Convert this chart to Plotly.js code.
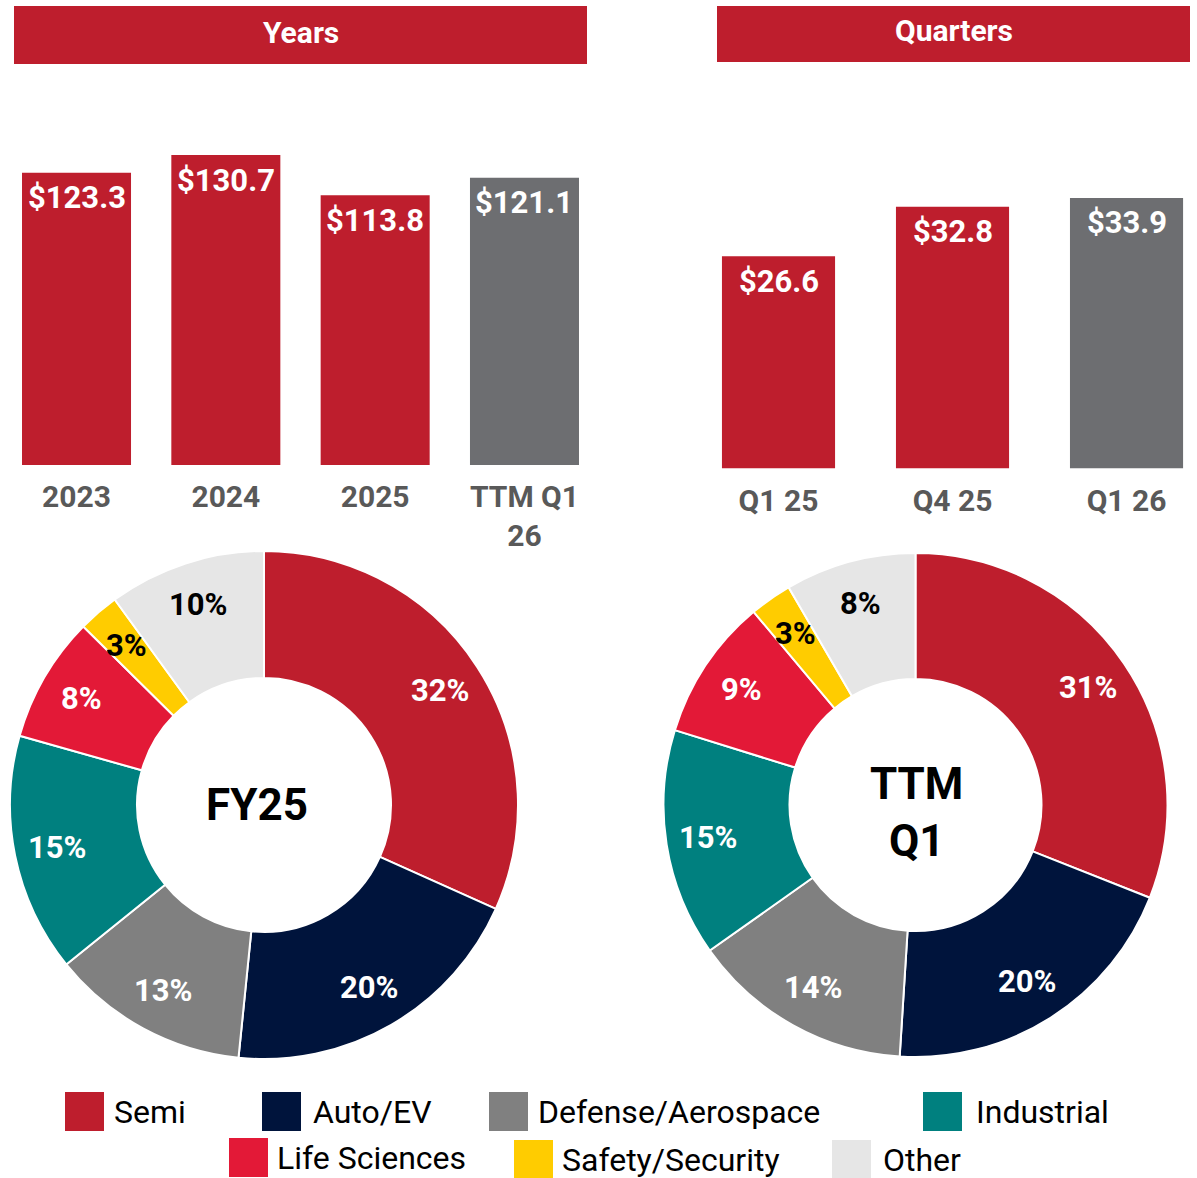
<!DOCTYPE html>
<html><head><meta charset="utf-8">
<script src="https://cdn.plot.ly/plotly-3.0.1.min.js"></script>
<style>html,body{margin:0;padding:0;background:#fff;} #chart{width:1197px;height:1178px;}</style>
</head><body><div id="chart"></div>
<script>
// ---- data ----
const yearCategories = ['2023', '2024', '2025', 'TTM Q1<br>26'];
const yearRevenue = [123.3, 130.7, 113.8, 121.1];
const quarterCategories = ['Q1 25', 'Q4 25', 'Q1 26'];
const quarterRevenue = [26.6, 32.8, 33.9];
const segments = ['Semi', 'Auto/EV', 'Defense/Aerospace', 'Industrial', 'Life Sciences', 'Safety/Security', 'Other'];
const fy25Mix = [31.7, 19.9, 12.6, 15.2, 8.0, 2.6, 10.0];
const ttmMix = [31.0, 20.0, 14.2, 14.6, 9.1, 2.7, 8.4];
const panelTitles = ['Years', 'Quarters'];
const donutTitles = ['FY25', 'TTM<br>Q1'];

// ---- styling / layout helpers ----
const W = 1197, H = 1178;
const px = v => v / W, py = v => 1 - v / H;
const RED = '#BE1E2D', GREY = '#6D6E71';
const segColors = ['#BE1E2D', '#00143C', '#808080', '#00807F', '#E31937', '#FFCC00', '#E6E6E6'];
const segText = ['#ffffff', '#ffffff', '#ffffff', '#ffffff', '#ffffff', '#000000', '#000000'];
const FONT = 'Roboto, "Open Sans", Arial, sans-serif';
const lastGrey = arr => arr.map((_, i) => i === arr.length - 1 ? GREY : RED);

const donuts = [
  {values: fy25Mix, cx: 264, cy: 805, r: 254, titleX: 257, titleY: 805},
  {values: ttmMix, cx: 915.5, cy: 805, r: 252, titleX: 916, titleY: 812}
];

const traces = [
  {type: 'bar', x: yearCategories, y: yearRevenue, xaxis: 'x', yaxis: 'y', width: 0.73,
   marker: {color: lastGrey(yearRevenue)}, hoverinfo: 'none'},
  {type: 'bar', x: quarterCategories, y: quarterRevenue, xaxis: 'x2', yaxis: 'y2', width: 0.65,
   marker: {color: lastGrey(quarterRevenue)}, hoverinfo: 'none'}
];
donuts.forEach(d => {
  traces.push({type: 'pie', labels: segments, values: d.values, hole: 0.5, sort: false,
    direction: 'clockwise', rotation: 0, textinfo: 'none', hoverinfo: 'none',
    marker: {colors: segColors, line: {color: '#ffffff', width: 2}},
    domain: {x: [px(d.cx - d.r), px(d.cx + d.r)], y: [py(d.cy + d.r), py(d.cy - d.r)]}});
});

const annotations = [];
const shapes = [];

// bar value labels (x given as category index on the category axis)
yearCategories.forEach((c, i) => annotations.push({xref: 'x', yref: 'y', x: i, y: yearRevenue[i],
  text: '$' + yearRevenue[i].toFixed(1), showarrow: false, yanchor: 'middle', yshift: -25,
  font: {family: FONT, size: 31, color: '#ffffff', weight: 700}}));
quarterCategories.forEach((c, i) => annotations.push({xref: 'x2', yref: 'y2', x: i, y: quarterRevenue[i],
  text: '$' + quarterRevenue[i].toFixed(1), showarrow: false, yanchor: 'middle', yshift: -25,
  font: {family: FONT, size: 31, color: '#ffffff', weight: 700}}));

// header bands
const bands = [{x0: 14, x1: 587, y0: 6, y1: 64}, {x0: 717, x1: 1190, y0: 6, y1: 62}];
bands.forEach((b, i) => {
  shapes.push({type: 'rect', xref: 'paper', yref: 'paper', x0: px(b.x0), x1: px(b.x1), y0: py(b.y1), y1: py(b.y0),
    fillcolor: RED, line: {width: 0}, layer: 'below'});
  annotations.push({xref: 'paper', yref: 'paper', x: px((b.x0 + b.x1) / 2), y: py((b.y0 + b.y1) / 2 - 3),
    text: panelTitles[i], showarrow: false, xanchor: 'center', yanchor: 'middle',
    font: {family: FONT, size: 30, color: '#ffffff', weight: 700}});
});

// donut labels and centre titles
donuts.forEach((d, k) => {
  const total = d.values.reduce((a, b) => a + b, 0);
  let cum = 0;
  d.values.forEach((v, i) => {
    const mid = (cum + v / 2) / total * 2 * Math.PI;
    cum += v;
    const rr = d.r * 0.83;
    const x = d.cx + rr * Math.sin(mid), y = d.cy - rr * Math.cos(mid);
    annotations.push({xref: 'paper', yref: 'paper', x: px(x), y: py(y), showarrow: false,
      xanchor: 'center', yanchor: 'middle', text: Math.round(v / total * 100) + '%',
      font: {family: FONT, size: 31, color: segText[i], weight: 700}});
  });
  annotations.push({xref: 'paper', yref: 'paper', x: px(d.titleX), y: py(d.titleY), showarrow: false,
    xanchor: 'center', yanchor: 'middle', text: donutTitles[k],
    font: {family: FONT, size: 44, color: '#000000', weight: 700}});
});

// legend
const legendPos = [[65, 1092, 112], [262, 1092, 311], [489, 1092, 536], [923, 1092, 974],
                   [229, 1138, 275], [514, 1140, 560], [832, 1140, 881]];
const SQ = 39;
segments.forEach((s, i) => {
  const [sx, sy, tx] = legendPos[i];
  shapes.push({type: 'rect', xref: 'paper', yref: 'paper', x0: px(sx), x1: px(sx + SQ),
    y0: py(sy + SQ), y1: py(sy), fillcolor: segColors[i], line: {width: 0}});
  annotations.push({xref: 'paper', yref: 'paper', x: px(tx), y: py(sy + SQ / 2), showarrow: false,
    xanchor: 'left', yanchor: 'middle', text: s, font: {family: FONT, size: 32, color: '#000000'}});
});

const tickFont = {family: FONT, size: 30, color: '#595959', weight: 700};
const layout = {
  width: W, height: H, margin: {l: 0, r: 0, t: 0, b: 0, pad: 0},
  paper_bgcolor: '#ffffff', plot_bgcolor: 'rgba(0,0,0,0)', showlegend: false,
  xaxis: {domain: [px(1.85), px(599.15)], range: [-0.5, 3.5], type: 'category', anchor: 'y',
    showline: false, showgrid: false, zeroline: false, ticks: '', tickfont: tickFont, ticklabelstandoff: 11, fixedrange: true},
  yaxis: {domain: [py(465), py(100)], range: [0, 153.94], visible: false, anchor: 'x', fixedrange: true},
  xaxis2: {domain: [px(691.5), 1], range: [-0.5, 2.405], type: 'category', anchor: 'y2',
    showline: false, showgrid: false, zeroline: false, ticks: '', tickfont: tickFont, ticklabelstandoff: 11, fixedrange: true},
  yaxis2: {domain: [py(468.5), py(100)], range: [0, 46.18], visible: false, anchor: 'x2', fixedrange: true},
  shapes: shapes, annotations: annotations, hovermode: false
};
Plotly.newPlot('chart', traces, layout, {staticPlot: true, displayModeBar: false});
</script></body></html>
